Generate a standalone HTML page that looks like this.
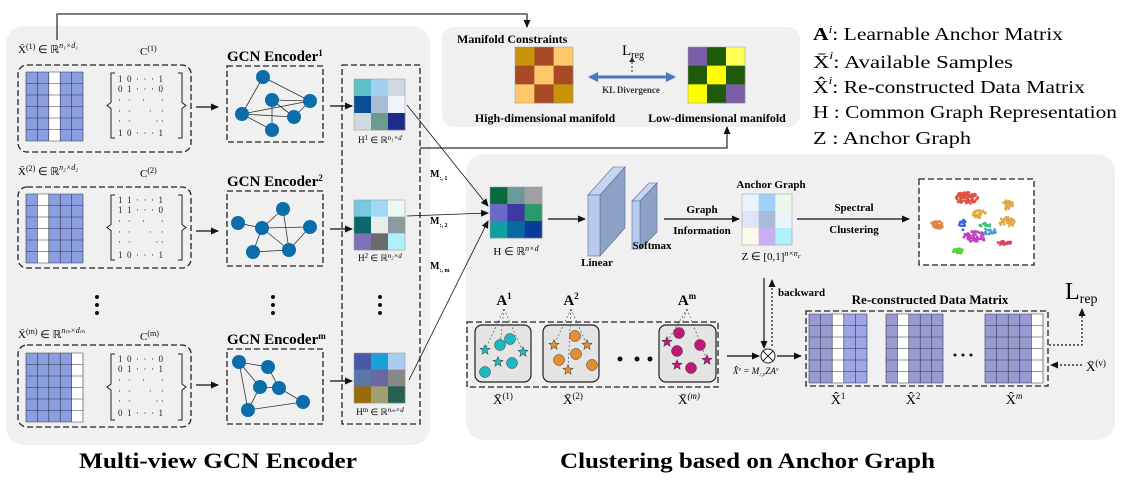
<!DOCTYPE html>
<html><head><meta charset="utf-8"><style>
html,body{margin:0;padding:0;background:#fff;}
svg, svg text, svg tspan{font-family:"Liberation Serif","Times New Roman",serif !important;}
.b{font-weight:bold;}
</style></head><body>
<svg id="s" width="1126" height="484" viewBox="0 0 1126 484" xmlns="http://www.w3.org/2000/svg" font-family="Liberation Serif, serif">
<defs>
<marker id="ar" markerWidth="8" markerHeight="8" refX="7" refY="4" orient="auto" markerUnits="userSpaceOnUse"><path d="M0,0.5 L8,4 L0,7.5 z" fill="#111"/></marker>
<marker id="bl" markerWidth="10" markerHeight="10" refX="8" refY="5" orient="auto" markerUnits="userSpaceOnUse"><path d="M0,0 L10,5 L0,10 z" fill="#4a78c0"/></marker>
</defs>
<rect x="6" y="26" width="424" height="419" rx="18" fill="#f0f0f0"/>
<rect x="466" y="154" width="649" height="286" rx="18" fill="#f0f0f0"/>
<rect x="442" y="27" width="358" height="100" rx="12" fill="#f0f0f0"/>

<polyline points="57,40 57,14 527,14 527,27" fill="none" stroke="#333" stroke-width="1.3" marker-end="url(#ar)"/>
<polyline points="420,148 727,148 727,127" fill="none" stroke="#333" stroke-width="1.3" marker-end="url(#ar)"/>

<text x="457" y="43" class="b" font-size="12">Manifold Constraints</text>
<g id="hm"></g>
<line x1="590" y1="77" x2="674" y2="77" stroke="#4a78c0" stroke-width="3" marker-end="url(#bl)"/>
<line x1="674" y1="77" x2="590" y2="77" stroke="#4a78c0" stroke-width="3" marker-end="url(#bl)"/>
<text x="622" y="55" font-size="15">L<tspan font-size="10" dy="3">reg</tspan></text>
<line x1="632" y1="72" x2="632" y2="60" stroke="#333" stroke-dasharray="2,2"/>
<path d="M629,62 L632,57 L635,62z" fill="#333"/>
<text x="631" y="93" class="b" font-size="9" text-anchor="middle" fill="#333">KL Divergence</text>
<text x="545" y="122" class="b" font-size="12" text-anchor="middle">High-dimensional manifold</text>
<text x="717" y="122" class="b" font-size="12" text-anchor="middle">Low-dimensional manifold</text>

<g font-size="18">
<text x="813" y="40" textLength="250" lengthAdjust="spacingAndGlyphs"><tspan class="b">A</tspan><tspan font-size="11" dy="-7" font-style="italic">i</tspan><tspan dy="7">:  Learnable Anchor Matrix</tspan></text>
<text x="813" y="68" textLength="200" lengthAdjust="spacingAndGlyphs">X̄<tspan font-size="11" dy="-9" font-style="italic">i</tspan><tspan dy="9">:  Available  Samples</tspan></text>
<text x="813" y="93" textLength="272" lengthAdjust="spacingAndGlyphs">X̂<tspan font-size="11" dy="-9" font-style="italic">i</tspan><tspan dy="9">:  Re-constructed Data Matrix</tspan></text>
<text x="813" y="118" textLength="304" lengthAdjust="spacingAndGlyphs">H  :  Common Graph Representation</text>
<text x="813" y="144" textLength="158" lengthAdjust="spacingAndGlyphs">Z  :  Anchor Graph</text>
</g>

<g font-size="11">
<text x="18" y="53">X̄<tspan font-size="8" dy="-4">(1)</tspan><tspan dy="4"> ∈ ℝ</tspan><tspan font-size="8" dy="-5" font-style="italic">n₁×d₁</tspan></text>
<text x="140" y="55">C<tspan font-size="8" dy="-4">(1)</tspan></text>
<text x="18" y="175">X̄<tspan font-size="8" dy="-4">(2)</tspan><tspan dy="4"> ∈ ℝ</tspan><tspan font-size="8" dy="-5" font-style="italic">n₂×d₂</tspan></text>
<text x="140" y="177">C<tspan font-size="8" dy="-4">(2)</tspan></text>
<text x="18" y="338">X̄<tspan font-size="8" dy="-4">(m)</tspan><tspan dy="4"> ∈ ℝ</tspan><tspan font-size="8" dy="-5" font-style="italic">nₘ×dₘ</tspan></text>
<text x="140" y="340">C<tspan font-size="8" dy="-4">(m)</tspan></text>
</g>
<g fill="none" stroke="#222" stroke-width="1.3" stroke-dasharray="6,3">
<rect x="18" y="65" width="173" height="87" rx="9"/>
<rect x="18" y="187" width="173" height="81" rx="9"/>
<rect x="18" y="345" width="173" height="82" rx="9"/>
<rect x="227" y="66" width="96" height="76"/>
<rect x="227" y="191" width="96" height="75"/>
<rect x="227" y="349" width="96" height="75"/>
<rect x="342" y="65" width="78" height="359"/>
<rect x="919" y="179" width="115" height="86" fill="#fff"/>
<rect x="467" y="322" width="251" height="65"/>
<rect x="806" y="311" width="242" height="75"/>
</g>
<g id="dyn"></g>
<g font-size="9" fill="#222">
<text x="118" y="82" xml:space="preserve">1  0  ·  ·  ·  1</text>
<text x="118" y="92" xml:space="preserve">0  1  ·  ·  ·  0</text>
<text x="118" y="103" xml:space="preserve">·   ·     ·       ·</text>
<text x="118" y="114" xml:space="preserve">·   ·        ·    ·</text>
<text x="118" y="124" xml:space="preserve">·   ·           · ·</text>
<text x="118" y="136" xml:space="preserve">1  0  ·  ·  ·  1</text>
<text x="118" y="203" xml:space="preserve">1  1  ·  ·  ·  1</text>
<text x="118" y="213" xml:space="preserve">1  1  ·  ·  ·  0</text>
<text x="118" y="224" xml:space="preserve">·   ·     ·       ·</text>
<text x="118" y="235" xml:space="preserve">·   ·        ·    ·</text>
<text x="118" y="245" xml:space="preserve">·   ·           · ·</text>
<text x="118" y="258" xml:space="preserve">1  0  ·  ·  ·  1</text>
<text x="118" y="362" xml:space="preserve">1  0  ·  ·  ·  0</text>
<text x="118" y="372" xml:space="preserve">0  1  ·  ·  ·  1</text>
<text x="118" y="383" xml:space="preserve">·   ·     ·       ·</text>
<text x="118" y="394" xml:space="preserve">·   ·        ·    ·</text>
<text x="118" y="404" xml:space="preserve">·   ·           · ·</text>
<text x="118" y="416" xml:space="preserve">0  1  ·  ·  ·  1</text>
</g>
<g class="b" font-size="15">
<text x="227" y="61">GCN Encoder<tspan font-size="9" dy="-5">1</tspan></text>
<text x="227" y="186">GCN Encoder<tspan font-size="9" dy="-5">2</tspan></text>
<text x="227" y="344">GCN Encoder<tspan font-size="9" dy="-5">m</tspan></text>
</g>
<g font-size="9" text-anchor="middle">
<text x="380" y="143">H<tspan font-size="7" dy="-3">1</tspan><tspan dy="3"> ∈ ℝ</tspan><tspan font-size="7" dy="-3" font-style="italic">n₁×d</tspan></text>
<text x="380" y="261">H<tspan font-size="7" dy="-3">2</tspan><tspan dy="3"> ∈ ℝ</tspan><tspan font-size="7" dy="-3" font-style="italic">n₂×d</tspan></text>
<text x="380" y="415">H<tspan font-size="7" dy="-3">m</tspan><tspan dy="3"> ∈ ℝ</tspan><tspan font-size="7" dy="-3" font-style="italic">nₘ×d</tspan></text>
</g>
<g class="b" font-size="10">
<text x="430" y="177">M<tspan font-size="6" dy="3">:, 1</tspan></text>
<text x="430" y="224">M<tspan font-size="6" dy="3">:, 2</tspan></text>
<text x="430" y="269">M<tspan font-size="6" dy="3">:, m</tspan></text>
</g>
<g stroke="#111" stroke-width="1.2" fill="none">
<line x1="196" y1="107" x2="218" y2="107" marker-end="url(#ar)"/>
<line x1="196" y1="231" x2="218" y2="231" marker-end="url(#ar)"/>
<line x1="196" y1="385" x2="218" y2="385" marker-end="url(#ar)"/>
<line x1="330" y1="106" x2="352" y2="106" marker-end="url(#ar)"/>
<line x1="330" y1="229" x2="352" y2="229" marker-end="url(#ar)"/>
<line x1="330" y1="381" x2="352" y2="381" marker-end="url(#ar)"/>
<line x1="407" y1="105" x2="488" y2="206" stroke-width="0.8" marker-end="url(#ar)"/>
<line x1="407" y1="216" x2="488" y2="213" stroke-width="0.8" marker-end="url(#ar)"/>
<line x1="409" y1="380" x2="488" y2="221" stroke-width="0.8" marker-end="url(#ar)"/>
<line x1="548" y1="219" x2="585" y2="219" marker-end="url(#ar)"/>
<line x1="664" y1="219" x2="739" y2="219" marker-end="url(#ar)"/>
<line x1="797" y1="219" x2="909" y2="219" marker-end="url(#ar)"/>
<line x1="764" y1="278" x2="764" y2="348" marker-end="url(#ar)"/>
<line x1="772" y1="346" x2="772" y2="280" stroke-dasharray="2,2" marker-end="url(#ar)"/>
<line x1="727" y1="356" x2="759" y2="356" marker-end="url(#ar)"/>
<line x1="777" y1="356" x2="801" y2="356" marker-end="url(#ar)"/>
<polyline points="1049,345 1082,345 1082,309" stroke-dasharray="2,2" marker-end="url(#ar)"/>
<line x1="1082" y1="365" x2="1051" y2="365" stroke-dasharray="2,2" marker-end="url(#ar)"/>
</g>
<g fill="#111">
<circle cx="97" cy="297" r="2"/><circle cx="97" cy="305" r="2"/><circle cx="97" cy="313" r="2"/>
<circle cx="273" cy="297" r="2"/><circle cx="273" cy="305" r="2"/><circle cx="273" cy="313" r="2"/>
<circle cx="380" cy="297" r="2"/><circle cx="380" cy="305" r="2"/><circle cx="380" cy="313" r="2"/>
<circle cx="620" cy="359" r="2.5"/><circle cx="637" cy="359" r="2.5"/><circle cx="650" cy="359" r="2.5"/>
<circle cx="955" cy="355" r="1.5"/><circle cx="963" cy="355" r="1.5"/><circle cx="971" cy="355" r="1.5"/>
</g>

<text x="516" y="255" font-size="11" text-anchor="middle">H ∈ ℝ<tspan font-size="8" dy="-4" font-style="italic">n×d</tspan></text>
<g stroke="#5a6a90" stroke-width="0.6">
<polygon points="600,195 625,167 625,228 600,256" fill="#8da0c8"/>
<polygon points="588,195 613,167 625,167 600,195" fill="#c5d5f0"/>
<rect x="588" y="195" width="12" height="61" fill="#b8cbee"/>
<polygon points="640,201 657,183 657,232 640,249" fill="#8da0c8"/>
<polygon points="632,201 649,183 657,183 640,201" fill="#c5d5f0"/>
<rect x="632" y="201" width="8" height="48" fill="#b8cbee"/>
</g>
<text x="597" y="266" class="b" font-size="11" text-anchor="middle">Linear</text>
<text x="652" y="249" class="b" font-size="11" text-anchor="middle">Softmax</text>
<text x="702" y="213" class="b" font-size="11" text-anchor="middle">Graph</text>
<text x="702" y="234" class="b" font-size="11" text-anchor="middle">Information</text>
<text x="771" y="188" class="b" font-size="11" text-anchor="middle">Anchor Graph</text>
<text x="771" y="260" font-size="11" text-anchor="middle">Z ∈ [0,1]<tspan font-size="8" dy="-4" font-style="italic">n×n<tspan font-size="6" dy="2">c</tspan></tspan></text>
<text x="854" y="211" class="b" font-size="11" text-anchor="middle">Spectral</text>
<text x="854" y="233" class="b" font-size="11" text-anchor="middle">Clustering</text>
<text x="778" y="296" class="b" font-size="11">backward</text>
<text x="930" y="304" class="b" font-size="13" text-anchor="middle">Re-constructed Data Matrix</text>
<circle cx="768" cy="356" r="7" fill="#fff" stroke="#222"/>
<path d="M763,351 L773,361 M773,351 L763,361" stroke="#222"/>
<text x="733" y="374" font-size="9" font-style="italic">X̂<tspan font-size="6" dy="-3">v</tspan><tspan dy="3"> = M</tspan><tspan font-size="6" dy="2">:,v</tspan><tspan dy="-2">ZA</tspan><tspan font-size="6" dy="-3">v</tspan></text>
<text x="1065" y="299" font-size="24">L<tspan font-size="14" dy="4">rep</tspan></text>
<text x="1086" y="371" font-size="13">X̄<tspan font-size="9" dy="-5">(v)</tspan></text>
<g font-size="14" text-anchor="middle">
<text x="838" y="404">X̂<tspan font-size="9" dy="-5">1</tspan></text>
<text x="913" y="404">X̂<tspan font-size="9" dy="-5">2</tspan></text>
<text x="1014" y="404">X̂<tspan font-size="9" dy="-5" font-style="italic">m</tspan></text>
</g>
<g class="b" font-size="15" text-anchor="middle">
<text x="504" y="305">A<tspan font-size="9" dy="-6">1</tspan></text>
<text x="571" y="305">A<tspan font-size="9" dy="-6">2</tspan></text>
<text x="687" y="305">A<tspan font-size="9" dy="-6">m</tspan></text>
</g>
<g font-size="13" text-anchor="middle">
<text x="503" y="404">X̄<tspan font-size="9" dy="-5">(1)</tspan></text>
<text x="573" y="404">X̄<tspan font-size="9" dy="-5">(2)</tspan></text>
<text x="689" y="404">X̄<tspan font-size="9" dy="-5" font-style="italic">(m)</tspan></text>
</g>
<rect x="475" y="325" width="56" height="57" rx="7" fill="#e4e4e4" stroke="#222" stroke-width="1.2"/>
<rect x="543" y="325" width="56" height="57" rx="7" fill="#e4e4e4" stroke="#222" stroke-width="1.2"/>
<rect x="659" y="325" width="57" height="57" rx="7" fill="#e4e4e4" stroke="#222" stroke-width="1.2"/>
<g id="anc"></g>

<text x="79" y="468" class="b" font-size="22" textLength="278" lengthAdjust="spacingAndGlyphs">Multi-view GCN Encoder</text>
<text x="560" y="468" class="b" font-size="22" textLength="375" lengthAdjust="spacingAndGlyphs">Clustering based on Anchor Graph</text>
</svg>
<script>
var NS="http://www.w3.org/2000/svg";
function el(p,t,a){var e=document.createElementNS(NS,t);for(var k in a)e.setAttribute(k,a[k]);p.appendChild(e);return e;}
var D=document.getElementById('dyn');
function heat(x,y,w,h,c,g){g=g||D;var cw=w/3,ch=h/3;for(var i=0;i<9;i++)el(g,'rect',{x:x+(i%3)*cw,y:y+Math.floor(i/3)*ch,width:cw+0.3,height:ch+0.3,fill:c[i]});el(g,'rect',{x:x,y:y,width:w,height:h,fill:'none',stroke:'#999','stroke-width':0.5});}
var G=document.getElementById('hm');
var O='#c8920a',B='#a84a25',L='#ffc86a';heat(515,47,58,56,[O,B,L,B,L,B,L,B,O],G);
var P='#7b5ea7',Gn='#1f5a0a',Y='#ffff55',Yy='#ffff00';heat(688,47,57,56,[P,Gn,Y,Gn,Yy,Gn,Yy,Gn,P],G);
heat(354,79,51,51,['#5fc0c8','#9fd0f0','#d0d8e0','#0b4e96','#a8bcd8','#eef4fa','#d0d8e0','#6a9a90','#1e2a8a']);
heat(354,200,51,50,['#78c8e0','#a0d8f8','#eafaf0','#0a6868','#e8ecec','#9098a0','#8070b8','#6a6a6a','#b0f0f8']);
heat(354,353,51,50,['#4a58a8','#1aa0d8','#a8ccf0','#5878a8','#6a68a0','#888888','#9a6a10','#a0a070','#2a6050']);
heat(490,187,52,51,['#0b6a3a','#6a9a98','#a0a0a0','#6a68c8','#3a3aa0','#2a9a6a','#10a0a0','#0a68a0','#0a3a9a']);
heat(742,194,50,51,['#e8f4fc','#a0d0f8','#eaf8ec','#e0e4f8','#a8bcd8','#eaf4fa','#fcf8ea','#c8b0f0','#b0f0f8']);
function grid(x,y,w,h,cols,rows,white,fill,fill2){var cw=w/cols,rh=h/rows;for(var c=0;c<cols;c++){var f=white.indexOf(c)>=0?'#fff':(fill2&&c>=3?fill2:fill);el(D,'rect',{x:x+c*cw,y:y,width:cw,height:h,fill:f});}
for(var c=0;c<=cols;c++)el(D,'line',{x1:x+c*cw,y1:y,x2:x+c*cw,y2:y+h,stroke:'#334',"stroke-width":0.6});
for(var r=0;r<=rows;r++)el(D,'line',{x1:x,y1:y+r*rh,x2:x+w,y2:y+r*rh,stroke:'#334',"stroke-width":0.6});}
var bf='#8b9fe0';
grid(26,72,57,69,5,6,[2],bf);grid(26,194,57,69,5,6,[1],bf);grid(26,353,57,69,5,6,[4],bf);
var rf='#9a9ad2';
grid(809,314,58,69,5,6,[2],rf,'#9ea6e6');grid(886,314,57,69,5,6,[1],rf);grid(985,314,58,69,5,6,[4],rf);
[[73,138],[195,260],[354,420]].forEach(function(b){var y0=b[0],y1=b[1],m=(y0+y1)/2;
el(D,'path',{d:'M115,'+y0+' L111,'+y0+' L111,'+(m-3)+' L107,'+m+' L111,'+(m+3)+' L111,'+y1+' L115,'+y1,fill:'none',stroke:'#222','stroke-width':1});
el(D,'path',{d:'M178,'+y0+' L182,'+y0+' L182,'+(m-3)+' L186,'+m+' L182,'+(m+3)+' L182,'+y1+' L178,'+y1,fill:'none',stroke:'#222','stroke-width':1});});
function graph(n,e){e.forEach(function(p){el(D,'line',{x1:n[p[0]][0],y1:n[p[0]][1],x2:n[p[1]][0],y2:n[p[1]][1],stroke:'#333','stroke-width':0.8});});
n.forEach(function(p){el(D,'circle',{cx:p[0],cy:p[1],r:7,fill:'#0a6eaa'});});}
graph([[263,77],[272,100],[310,101],[242,114],[294,117],[272,130]],[[0,3],[0,2],[1,2],[1,4],[1,5],[3,2],[3,5],[3,4],[2,4]]);
graph([[238,223],[283,209],[262,228],[310,227],[253,252],[289,250]],[[0,2],[2,1],[1,5],[2,3],[2,5],[3,5],[2,4],[4,5]]);
graph([[239,362],[268,367],[260,387],[279,388],[303,402],[248,410]],[[0,1],[0,2],[0,5],[1,3],[2,3],[3,4],[4,5],[2,5]]);
var seed=7;function rnd(){seed=(seed*16807)%2147483647;return seed/2147483647;}
var S=document.getElementById('s');
function cl(cx,cy,rx,ry,n,col){for(var i=0;i<n;i++){var a=rnd()*6.28,r=Math.sqrt(rnd());el(S,'circle',{cx:cx+Math.cos(a)*rx*r,cy:cy+Math.sin(a)*ry*r,r:1.3,fill:col});}}
cl(966,198,12,6,90,'#e05040');cl(937,225,7,4,30,'#e08040');cl(979,214,7,4,30,'#e0a840');
cl(1008,205,6,5,30,'#e0a840');cl(1007,222,8,5,40,'#e0a840');cl(963,225,4,5,20,'#4060e0');
cl(975,237,12,6,60,'#c040c0');cl(990,232,6,4,20,'#40a0d0');cl(958,251,5,3,25,'#60d040');cl(1005,243,8,2,20,'#e04060');cl(985,226,6,3,15,'#40c080');
var A=document.getElementById('anc');
function star(x,y,c){var p=[];for(var i=0;i<10;i++){var r=i%2?2.3:5.5,a=-Math.PI/2+i*Math.PI/5;p.push((x+r*Math.cos(a)).toFixed(1)+','+(y+r*Math.sin(a)).toFixed(1));}el(A,'polygon',{points:p.join(' '),fill:c,stroke:'#333','stroke-width':0.5});}
function circ(x,y,c){el(A,'circle',{cx:x,cy:y,r:5.5,fill:c,stroke:'#333','stroke-width':0.5});}
function dl(x0,y0,pts){pts.forEach(function(p){el(A,'line',{x1:x0,y1:y0,x2:p[0],y2:p[1],stroke:'#444','stroke-width':0.6,'stroke-dasharray':'2,2'});});}
dl(504,309,[[485,350],[500,345],[523,352]]);dl(571,309,[[554,345],[568,370],[587,345]]);dl(687,309,[[667,342],[679,333],[707,360]]);
var c1='#20b8c0';star(485,350,c1);star(498,362,c1);star(523,352,c1);circ(500,345,c1);circ(510,339,c1);circ(512,363,c1);circ(485,372,c1);
var c2='#e09030';star(554,345,c2);star(587,345,c2);star(568,370,c2);circ(575,336,c2);circ(559,360,c2);circ(576,354,c2);circ(592,365,c2);
var c3='#c0187a';star(667,342,c3);star(677,365,c3);star(707,360,c3);circ(679,333,c3);circ(677,351,c3);circ(700,345,c3);circ(691,368,c3);
</script>
</body></html>
